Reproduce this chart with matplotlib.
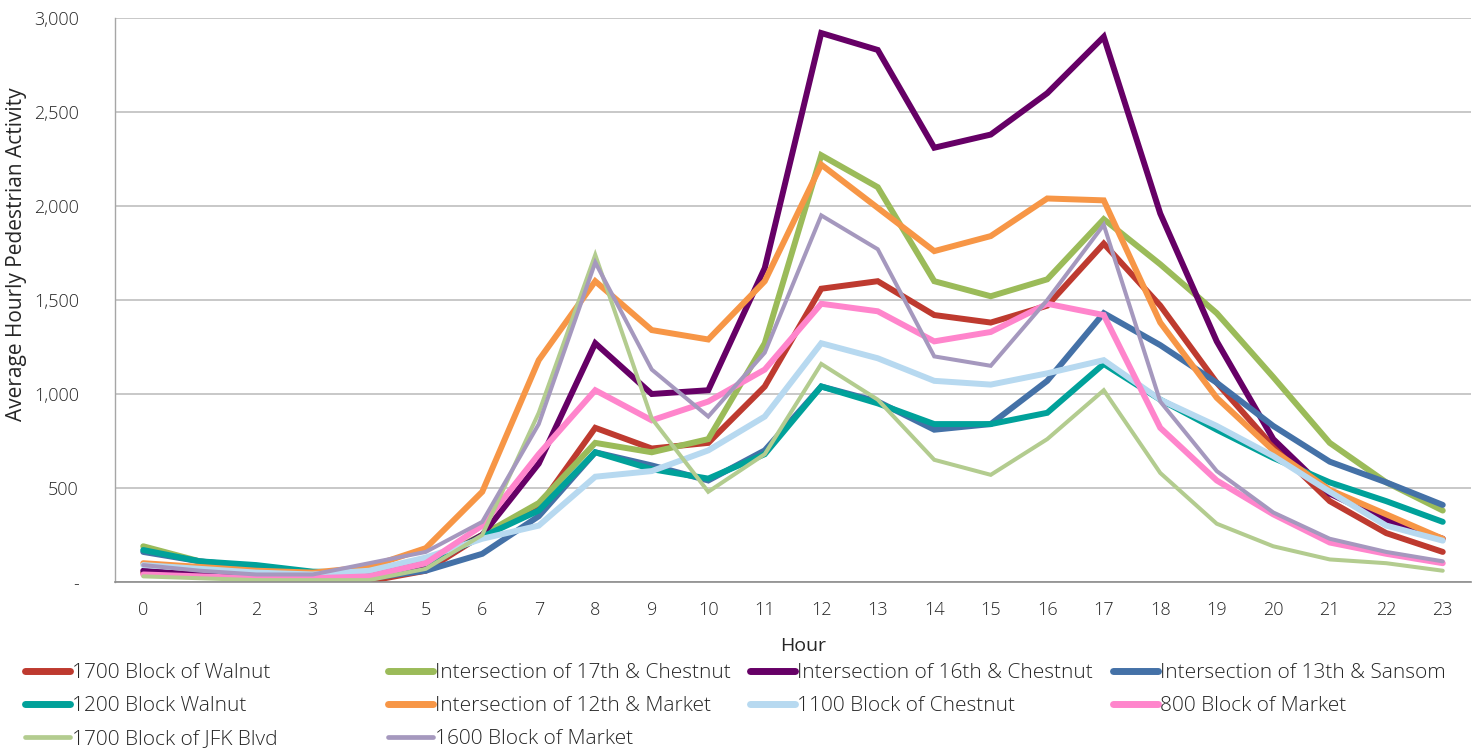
import matplotlib
matplotlib.use("Agg")
import matplotlib.pyplot as plt
from matplotlib.ticker import FuncFormatter

hours = list(range(24))
series_names = [
    "1700 Block of Walnut", "Intersection of 17th & Chestnut", "Intersection of 16th & Chestnut",
    "Intersection of 13th & Sansom", "1200 Block Walnut", "Intersection of 12th & Market",
    "1100 Block of Chestnut", "800 Block of Market", "1700 Block of JFK Blvd", "1600 Block of Market",
]
walnut_1700 = [48, 35, 20, 10, 5, 60, 250, 400, 820, 710, 740, 1040, 1560, 1600, 1420, 1380, 1470, 1800, 1470, 1060, 720, 430, 260, 160]
chestnut_17th = [190, 110, 70, 50, 40, 100, 250, 420, 740, 690, 760, 1270, 2270, 2100, 1600, 1520, 1610, 1930, 1690, 1430, 1090, 740, 530, 380]
chestnut_16th = [60, 40, 25, 20, 20, 80, 250, 630, 1270, 1000, 1020, 1670, 2920, 2830, 2310, 2380, 2600, 2900, 1960, 1280, 760, 470, 330, 230]
sansom_13th = [160, 110, 80, 50, 20, 60, 150, 350, 690, 620, 540, 700, 1040, 960, 810, 840, 1070, 1430, 1260, 1060, 830, 640, 530, 410]
walnut_1200 = [170, 110, 90, 55, 50, 100, 240, 380, 690, 600, 550, 680, 1040, 950, 840, 840, 900, 1160, 970, 810, 660, 530, 430, 320]
market_12th = [100, 80, 60, 50, 80, 180, 480, 1180, 1600, 1340, 1290, 1600, 2220, 1990, 1760, 1840, 2040, 2030, 1380, 980, 700, 490, 360, 230]
chestnut_1100 = [90, 70, 50, 40, 60, 130, 230, 300, 560, 590, 700, 880, 1270, 1190, 1070, 1050, 1110, 1180, 970, 830, 670, 480, 300, 220]
market_800 = [40, 30, 20, 20, 30, 100, 300, 680, 1020, 860, 960, 1130, 1480, 1440, 1280, 1330, 1480, 1420, 820, 540, 360, 210, 150, 100]
jfk_1700 = [30, 20, 10, 10, 10, 70, 250, 900, 1740, 870, 480, 680, 1160, 970, 650, 570, 760, 1020, 580, 310, 190, 120, 100, 60]
market_1600 = [90, 60, 40, 40, 100, 160, 320, 840, 1700, 1130, 880, 1220, 1950, 1770, 1200, 1150, 1500, 1900, 960, 590, 370, 230, 160, 110]

all_values = [walnut_1700, chestnut_17th, chestnut_16th, sansom_13th, walnut_1200,
              market_12th, chestnut_1100, market_800, jfk_1700, market_1600]
colors = ["#BE3A2F", "#9BBB59", "#660066", "#4471A7", "#00A19A",
          "#F79646", "#B7D9F0", "#FF85CC", "#B3CC8F", "#A598BE"]
widths = [4.3, 4.3, 4.3, 4.3, 4.3, 4.3, 4.3, 4.3, 2.9, 2.9]

plt.rcParams['font.family'] = ['Open Sans', 'DejaVu Sans']
plt.rcParams['font.weight'] = 'light'
text_color = "#262626"

W, H = 1481, 751
fig = plt.figure(figsize=(W / 100, H / 100), dpi=100)
ax = fig.add_axes([115 / W, 1 - 582 / H, (1471 - 115) / W, (582 - 18) / H])

handles = []
for name, vals, c, w in zip(series_names, all_values, colors, widths):
    h, = ax.plot(hours, vals, color=c, lw=w, solid_capstyle='round', solid_joinstyle='miter', label=name)
    handles.append(h)

ax.set_xlim(-0.5, 23.5)
ax.set_ylim(0, 3000)
ax.set_xticks(hours)
ax.set_xticklabels([str(h) for h in hours])
ax.set_yticks(range(0, 3001, 500))
ax.yaxis.set_major_formatter(FuncFormatter(lambda v, p: "-" if v == 0 else f"{int(v):,}"))
ax.grid(axis='y', color="#BFBFBF", lw=1.2)
ax.set_axisbelow(True)
for s in ['top', 'right']:
    ax.spines[s].set_visible(False)
ax.spines['left'].set_color("#A6A6A6")
ax.spines['bottom'].set_color("#8C8C8C")
ax.spines['left'].set_linewidth(1.0)
ax.spines['bottom'].set_linewidth(1.2)
ax.tick_params(axis='both', length=0, labelsize=13, colors=text_color, pad=14)
ax.tick_params(axis='y', pad=26)
ax.set_xlabel("Hour", fontsize=14, color=text_color)
ax.xaxis.set_label_coords((803 - 115) / 1356, (582 - 646) / 564)
ax.xaxis.label.set_va('center')
ax.set_ylabel("Average Hourly Pedestrian Activity", fontsize=15, color=text_color)
ax.yaxis.set_label_coords((17 - 115) / 1356, (582 - 254) / 564)
ax.yaxis.label.set_va('center')

# legend laid out in four fixed columns, rows filled left to right
col_x = [25, 388, 750, 1113]
row_y = [671, 704, 737]
for col in range(4):
    idx = [i for i in range(len(series_names)) if i % 4 == col]
    leg = fig.legend([handles[i] for i in idx], [series_names[i] for i in idx],
                     loc='upper left', bbox_to_anchor=(col_x[col] / W, 1 - (row_y[0] - 8) / H),
                     frameon=False, fontsize=15, handlelength=2.15, handletextpad=0.1,
                     labelspacing=0.62, borderaxespad=0, borderpad=0)
    for t in leg.get_texts():
        t.set_color(text_color)
    for lh, i in zip(leg.legend_handles, idx):
        lh.set_linewidth(5 if widths[i] > 3 else 3.4)
        lh.set_solid_capstyle('round')

fig.savefig("out.png", dpi=100)
